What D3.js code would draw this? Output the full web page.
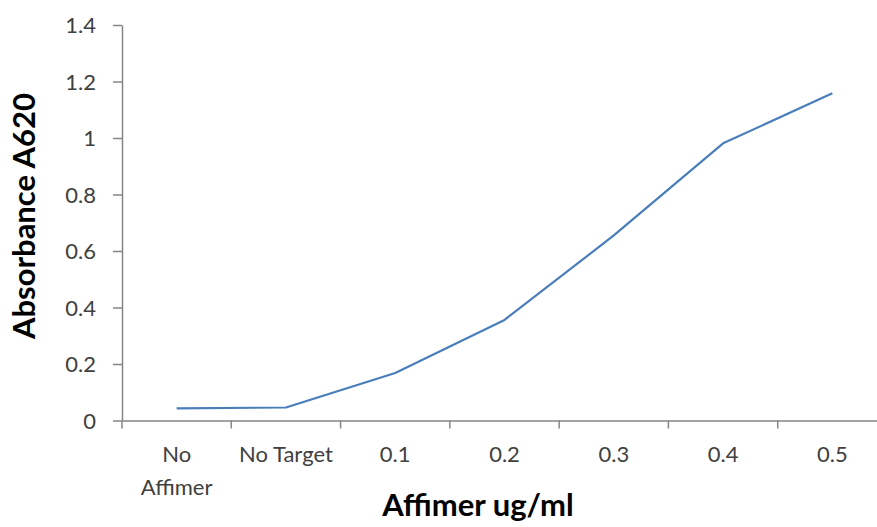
<!DOCTYPE html>
<html>
<head>
<meta charset="utf-8">
<script src="https://cdn.jsdelivr.net/npm/d3@7"></script>
<style>
  body { margin: 0; background: #fff; }
  svg { display: block; font-family: Lato, "Open Sans", sans-serif; }
  .axis path, .axis line { stroke: #868686; stroke-width: 1.5; }
  .axis text { fill: #404040; font-size: 22px; font-family: Lato, "Open Sans", sans-serif; }
</style>
</head>
<body>
<svg id="chart"></svg>
<script>
const categories = ["No Affimer", "No Target", "0.1", "0.2", "0.3", "0.4", "0.5"];
const absorbance = [0.043, 0.046, 0.168, 0.356, 0.655, 0.981, 1.158];
const yTicks = [0, 0.2, 0.4, 0.6, 0.8, 1, 1.2, 1.4];

const w = 877;
const h = 527;

var chart = d3.select("#chart")
  .attr("width", w)
  .attr("height", h);

const xScale = d3.scaleBand()
                 .domain(categories)
                 .range([122, 887]);

const yScale = d3.scaleLinear()
                 .domain([0, 1.4])
                 .range([420.5, 25]);

const xAxis = d3.axisBottom(xScale).tickSize(0);
const yAxis = d3.axisLeft(yScale).tickValues(yTicks).tickSize(9).tickSizeOuter(0).tickPadding(17)
                .tickFormat(d => d3.format("")(+d.toFixed(1)));

chart.append("g")
     .attr("class", "axis")
     .attr("id", "y-axis")
     .attr("transform", "translate(122, 0)")
     .call(yAxis)
     .call(g => g.selectAll(".tick text").attr("dy", "0.35em"));

var gx = chart.append("g")
     .attr("class", "axis")
     .attr("id", "x-axis")
     .attr("transform", "translate(0, 420.5)")
     .call(xAxis);

// boundary ticks between categories, like Excel
gx.selectAll(".sep")
  .data(categories.concat(["end"]).map((c, i) => 122 + i * xScale.step()))
  .enter().append("line")
  .attr("class", "sep")
  .attr("x1", d => d).attr("x2", d => d)
  .attr("y1", 0).attr("y2", 8);

// put label baselines where Excel puts them, wrap "No Affimer"
gx.selectAll(".tick text").each(function(d) {
  const t = d3.select(this).attr("y", 41.5).attr("dy", null);
  if (d === "No Affimer") {
    t.text(null);
    t.append("tspan").attr("x", 0).text("No");
    t.append("tspan").attr("x", 0).attr("dy", 33).text("Affimer");
  }
});

const line = d3.line()
  .x((d, i) => xScale(categories[i]) + xScale.bandwidth() / 2)
  .y(d => yScale(d));

chart.append("path")
     .datum(absorbance)
     .attr("fill", "none")
     .attr("stroke", "#4a7ebb")
     .attr("stroke-width", 2.2)
     .attr("stroke-linejoin", "round")
     .attr("d", line);

chart.append("text")
     .attr("x", 478)
     .attr("y", 516)
     .attr("text-anchor", "middle")
     .attr("font-size", 31)
     .attr("font-weight", "bold")
     .attr("fill", "#000")
     .text("Affimer ug/ml");

chart.append("text")
     .attr("transform", "translate(35, 216) rotate(-90)")
     .attr("text-anchor", "middle")
     .attr("font-size", 31)
     .attr("font-weight", "bold")
     .attr("fill", "#000")
     .text("Absorbance A620");
</script>
</body>
</html>
